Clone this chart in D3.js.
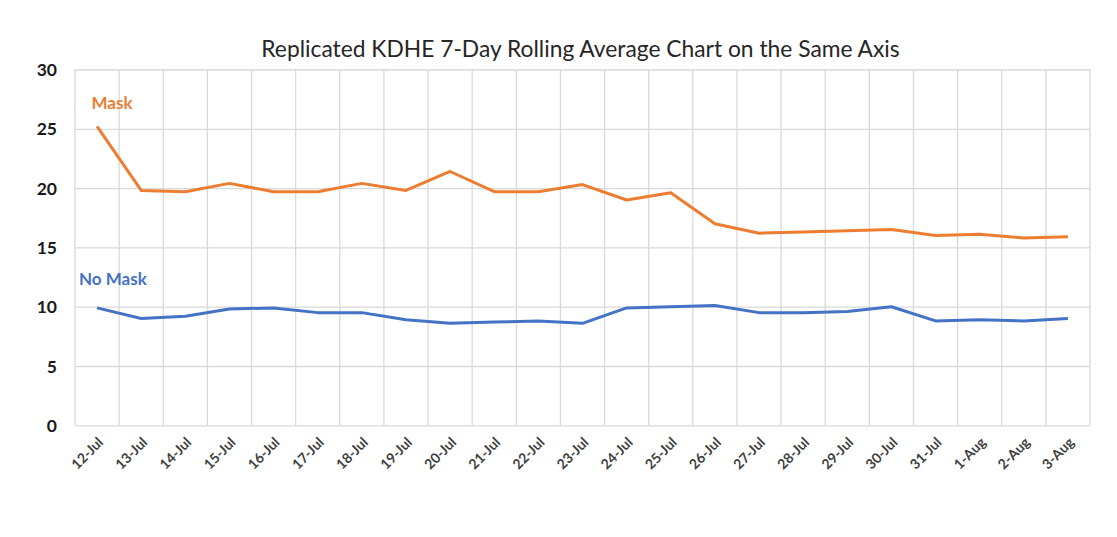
<!DOCTYPE html>
<html>
<head>
<meta charset="utf-8">
<script src="https://cdn.jsdelivr.net/npm/d3@7"></script>
<style>
  html, body { margin: 0; padding: 0; background: #fff; }
  svg { display: block; }
</style>
</head>
<body>
<svg id="chart" width="1117" height="537"></svg>
<script>
const categories = ["12-Jul","13-Jul","14-Jul","15-Jul","16-Jul","17-Jul","18-Jul","19-Jul","20-Jul","21-Jul","22-Jul","23-Jul","24-Jul","25-Jul","26-Jul","27-Jul","28-Jul","29-Jul","30-Jul","31-Jul","1-Aug","2-Aug","3-Aug"];
const maskValues = [25.2,19.8,19.7,20.4,19.7,19.7,20.4,19.8,21.4,19.7,19.7,20.3,19.0,19.6,17.0,16.2,16.3,16.4,16.5,16.0,16.1,15.8,15.9];
const noMaskValues = [9.9,9.0,9.2,9.8,9.9,9.5,9.5,8.9,8.6,8.7,8.8,8.6,9.9,10.0,10.1,9.5,9.5,9.6,10.0,8.8,8.9,8.8,9.0];
const yTicks = [0,5,10,15,20,25,30];
const titleText = "Replicated KDHE 7-Day Rolling Average Chart on the Same Axis";
const seriesNames = ["Mask","No Mask"];

(function () {
const svg = d3.select("#chart");
const pLeft = 75, pRight = 1090, pTop = 69.5, pBottom = 425.3;
const x = d3.scaleBand().domain(categories).range([pLeft, pRight]).padding(0);
const y = d3.scaleLinear().domain([0, 30]).range([pBottom, pTop]);
const gridColor = "#d9d9d9";
const font = "Lato, 'Liberation Sans', sans-serif";

// horizontal gridlines + y labels
const yAxis = d3.axisLeft(y).tickValues(yTicks).tickSize(-(pRight - pLeft)).tickFormat(d3.format("d"));
const gy = svg.append("g").attr("transform", `translate(${pLeft},0)`).call(yAxis);
gy.select(".domain").remove();
gy.selectAll(".tick line").attr("stroke", gridColor).attr("stroke-width", 1.3);
gy.selectAll(".tick text")
  .attr("x", -18).attr("dy", "0.35em")
  .attr("font-family", font).attr("font-weight", "bold")
  .attr("font-size", 17.5).attr("fill", "#1a1a1a");

// vertical gridlines at band edges
const edges = categories.map(c => x(c)).concat([pRight]);
svg.append("g").selectAll("line").data(edges).join("line")
  .attr("x1", d => d).attr("x2", d => d)
  .attr("y1", pTop).attr("y2", pBottom)
  .attr("stroke", gridColor).attr("stroke-width", 1.3);

// x labels
const xAxis = d3.axisBottom(x).tickSize(0);
const gx = svg.append("g").attr("transform", `translate(0,${pBottom})`).call(xAxis);
gx.select(".domain").remove();
gx.selectAll(".tick text")
  .attr("font-family", font).attr("font-weight", "bold")
  .attr("font-size", 14).attr("fill", "#404040")
  .attr("text-anchor", "end")
  .attr("y", 0).attr("dy", 0)
  .attr("transform", "translate(7,18) rotate(-45)");

// lines
const line = d3.line().x((d, i) => x(categories[i]) + x.bandwidth() / 2).y(d => y(d));
svg.append("path").datum(maskValues).attr("d", line)
  .attr("fill", "none").attr("stroke", "#ED7D31").attr("stroke-width", 3).attr("stroke-linejoin", "round");
svg.append("path").datum(noMaskValues).attr("d", line)
  .attr("fill", "none").attr("stroke", "#4472C4").attr("stroke-width", 3).attr("stroke-linejoin", "round");

// series labels
svg.append("text").text(seriesNames[0])
  .attr("x", 91.5).attr("y", 108.5)
  .attr("font-family", font).attr("font-weight", "bold").attr("font-size", 17)
  .attr("fill", "#ED7D31");
svg.append("text").text(seriesNames[1])
  .attr("x", 79).attr("y", 285)
  .attr("font-family", font).attr("font-weight", "bold").attr("font-size", 17)
  .attr("fill", "#4472C4");

// title
svg.append("text").text(titleText)
  .attr("x", 580.5).attr("y", 57)
  .attr("text-anchor", "middle")
  .attr("font-family", font).attr("font-size", 22.8)
  .attr("fill", "#262626");
})();
</script>
</body>
</html>
